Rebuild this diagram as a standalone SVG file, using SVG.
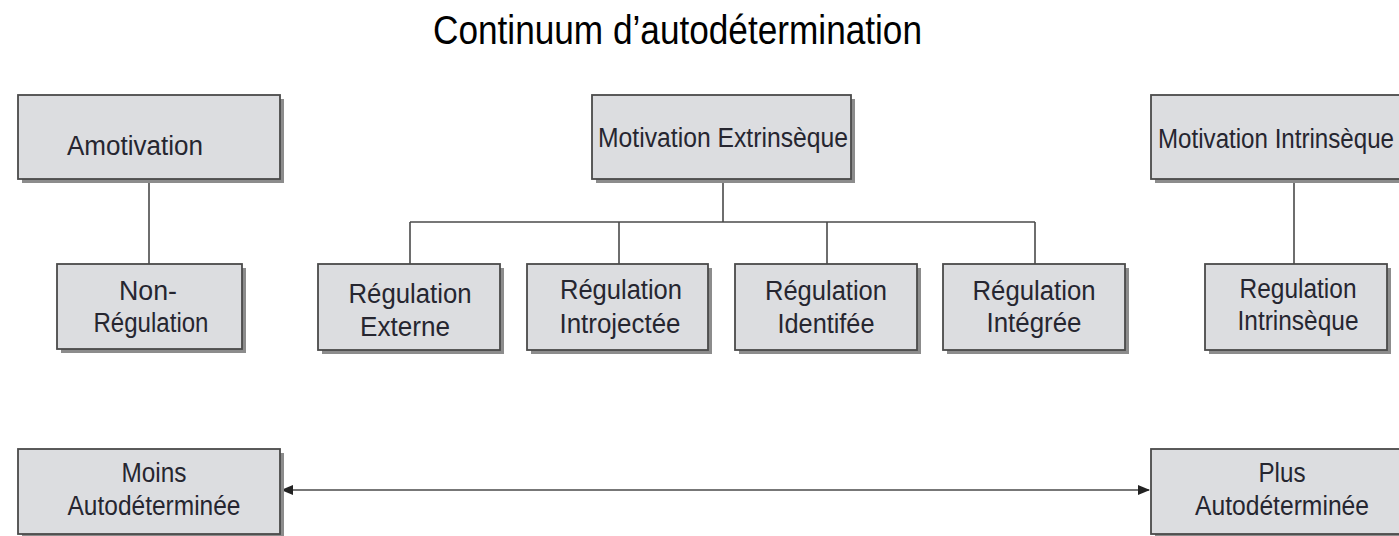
<svg xmlns="http://www.w3.org/2000/svg" width="1399" height="536" viewBox="0 0 1399 536">
<defs>
<style>
.box{fill:#dcdde0;stroke:#4a4a4a;stroke-width:1.8}
.sh{fill:#8c8c8c}
.t{font-family:"Liberation Sans",Arial,sans-serif;font-size:27px;fill:#262630}
.c{text-anchor:middle}
.ln{stroke:#4a4a4a;stroke-width:1.6;fill:none}
.title{font-family:"Liberation Sans",Arial,sans-serif;font-size:40px;fill:#000}
</style>
<marker id="ah" viewBox="0 0 12 10" refX="11" refY="5" markerWidth="12" markerHeight="10" markerUnits="userSpaceOnUse" orient="auto-start-reverse">
<path d="M0,0 L12,5 L0,10 Z" fill="#222"/>
</marker>
</defs>
<rect width="1399" height="536" fill="#fff"/>
<text class="title" x="433" y="44" textLength="489" lengthAdjust="spacingAndGlyphs">Continuum d’autodétermination</text>

<g id="connectors">
<line class="ln" x1="149" y1="179" x2="149" y2="264"/>
<line class="ln" x1="723" y1="179" x2="723" y2="222"/>
<line class="ln" x1="410" y1="222" x2="1035" y2="222"/>
<line class="ln" x1="410" y1="222" x2="410" y2="264"/>
<line class="ln" x1="619" y1="222" x2="619" y2="264"/>
<line class="ln" x1="827" y1="222" x2="827" y2="264"/>
<line class="ln" x1="1035" y1="222" x2="1035" y2="264"/>
<line class="ln" x1="1294" y1="179" x2="1294" y2="264"/>
<line class="ln" x1="282" y1="490" x2="1149" y2="490" marker-start="url(#ah)" marker-end="url(#ah)"/>
</g>

<g id="amotivation">
<rect class="sh" x="22" y="99" width="262" height="84"/>
<rect class="box" x="18" y="95" width="262" height="84"/>
<text class="t" x="67" y="155" textLength="136" lengthAdjust="spacingAndGlyphs">Amotivation</text>
</g>
<g id="motivation-extrinseque">
<rect class="sh" x="596" y="99" width="259" height="84"/>
<rect class="box" x="592" y="95" width="259" height="84"/>
<text class="t" x="598" y="147" textLength="250" lengthAdjust="spacingAndGlyphs">Motivation Extrinsèque</text>
</g>
<g id="motivation-intrinseque">
<rect class="sh" x="1155" y="99" width="260" height="84"/>
<rect class="box" x="1151" y="95" width="260" height="84"/>
<text class="t" x="1158" y="148" textLength="236" lengthAdjust="spacingAndGlyphs">Motivation Intrinsèque</text>
</g>

<g id="non-regulation">
<rect class="sh" x="61" y="268" width="185" height="85"/>
<rect class="box" x="57" y="264" width="185" height="85"/>
<text class="t c" x="148" y="300" textLength="58" lengthAdjust="spacingAndGlyphs">Non-</text>
<text class="t c" x="151" y="332" textLength="115" lengthAdjust="spacingAndGlyphs">Régulation</text>
</g>
<g id="regulation-externe">
<rect class="sh" x="322" y="268" width="182" height="86"/>
<rect class="box" x="318" y="264" width="182" height="86"/>
<text class="t c" x="410" y="303" textLength="123" lengthAdjust="spacingAndGlyphs">Régulation</text>
<text class="t c" x="405" y="336" textLength="90" lengthAdjust="spacingAndGlyphs">Externe</text>
</g>
<g id="regulation-introjectee">
<rect class="sh" x="531" y="268" width="181" height="86"/>
<rect class="box" x="527" y="264" width="181" height="86"/>
<text class="t c" x="621" y="299" textLength="122" lengthAdjust="spacingAndGlyphs">Régulation</text>
<text class="t c" x="620" y="333" textLength="121" lengthAdjust="spacingAndGlyphs">Introjectée</text>
</g>
<g id="regulation-identifee">
<rect class="sh" x="739" y="268" width="182" height="86"/>
<rect class="box" x="735" y="264" width="182" height="86"/>
<text class="t c" x="826" y="300" textLength="122" lengthAdjust="spacingAndGlyphs">Régulation</text>
<text class="t c" x="826" y="333" textLength="97" lengthAdjust="spacingAndGlyphs">Identifée</text>
</g>
<g id="regulation-integree">
<rect class="sh" x="947" y="268" width="182" height="86"/>
<rect class="box" x="943" y="264" width="182" height="86"/>
<text class="t c" x="1034" y="300" textLength="123" lengthAdjust="spacingAndGlyphs">Régulation</text>
<text class="t c" x="1034" y="332" textLength="95" lengthAdjust="spacingAndGlyphs">Intégrée</text>
</g>
<g id="regulation-intrinseque">
<rect class="sh" x="1209" y="268" width="182" height="86"/>
<rect class="box" x="1205" y="264" width="182" height="86"/>
<text class="t c" x="1298" y="298" textLength="117" lengthAdjust="spacingAndGlyphs">Regulation</text>
<text class="t c" x="1298" y="330" textLength="121" lengthAdjust="spacingAndGlyphs">Intrinsèque</text>
</g>

<g id="moins-autodeterminee">
<rect class="sh" x="22" y="453" width="262" height="85"/>
<rect class="box" x="18" y="449" width="262" height="85"/>
<text class="t c" x="154" y="482" textLength="65" lengthAdjust="spacingAndGlyphs">Moins</text>
<text class="t c" x="154" y="515" textLength="173" lengthAdjust="spacingAndGlyphs">Autodéterminée</text>
</g>
<g id="plus-autodeterminee">
<rect class="sh" x="1155" y="453" width="260" height="85"/>
<rect class="box" x="1151" y="449" width="260" height="85"/>
<text class="t c" x="1282" y="482" textLength="47" lengthAdjust="spacingAndGlyphs">Plus</text>
<text class="t c" x="1282" y="515" textLength="174" lengthAdjust="spacingAndGlyphs">Autodéterminée</text>
</g>
</svg>
